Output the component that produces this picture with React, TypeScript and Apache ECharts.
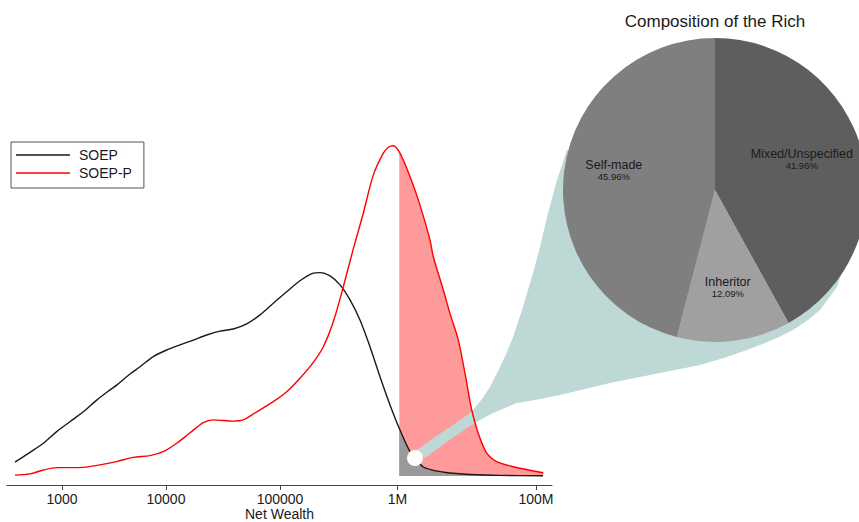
import React, { useEffect, useRef } from "react";
import * as echarts from "echarts";

// x positions are in axis units (0..100) of the chart's wealth axis
const tickPos = [10.09, 29.17, 50.09, 71.65, 97.06];
const tickLabels = ["1000", "10000", "100000", "1M", "100M"];

const soepX = [1.47, 4.22, 6.66, 9.12, 11.56, 14.0, 16.46, 18.9, 20.13, 22.57, 24.4, 26.84, 29.3, 31.74, 34.18, 36.64, 39.08, 41.52, 43.98, 46.42, 48.86, 51.32, 53.76, 56.2, 57.43, 59.27, 61.1, 62.94, 64.77, 66.6, 68.44, 70.28, 72.11, 73.94, 74.86, 76.39, 78.7, 81.28, 84.95, 90.46, 98.35];
const soepY = [0.046, 0.079, 0.109, 0.148, 0.181, 0.214, 0.253, 0.287, 0.303, 0.34, 0.364, 0.398, 0.42, 0.437, 0.453, 0.47, 0.483, 0.49, 0.507, 0.537, 0.576, 0.614, 0.651, 0.676, 0.678, 0.667, 0.637, 0.587, 0.52, 0.431, 0.331, 0.237, 0.153, 0.081, 0.06, 0.03, 0.017, 0.01, 0.005, 0.002, 0.001];

const soepPX = [1.47, 4.22, 6.66, 9.12, 13.39, 17.06, 20.13, 23.17, 26.24, 28.68, 31.14, 33.58, 36.02, 37.85, 41.52, 43.36, 45.82, 48.86, 51.32, 53.76, 56.2, 58.04, 59.87, 61.71, 63.54, 65.38, 67.21, 69.05, 69.96, 70.88, 72.11, 73.94, 75.78, 77.61, 78.22, 80.06, 81.28, 82.81, 84.04, 85.27, 86.48, 88.02, 89.85, 92.9, 98.4];
const soepPY = [0.003, 0.007, 0.02, 0.028, 0.028, 0.037, 0.048, 0.062, 0.068, 0.081, 0.109, 0.144, 0.178, 0.187, 0.183, 0.187, 0.214, 0.248, 0.281, 0.326, 0.379, 0.431, 0.514, 0.631, 0.757, 0.876, 1.003, 1.076, 1.096, 1.101, 1.076, 0.998, 0.903, 0.787, 0.731, 0.62, 0.542, 0.453, 0.342, 0.22, 0.142, 0.076, 0.048, 0.031, 0.011];

const richCut = 71.98;
const soepAtCut = 0.158;
const soepPAtCut = 1.08;
const markerX = 74.86;
const markerY = 0.06;

const pieNames = ["Mixed/Unspecified", "Inheritor", "Self-made"];
const pieValues = [41.96, 12.09, 45.96];
const pieColors = ["#5e5e5e", "#a0a0a0", "#7f7f7f"];

const FONT = "Liberation Sans, Arial, sans-serif";

function pairs(xs: number[], ys: number[]) {
  return xs.map((x, i) => [x, ys[i]]);
}
function tail(xs: number[], ys: number[], cutVal: number) {
  return [[richCut, cutVal], ...pairs(xs, ys).filter((p) => p[0] > richCut)];
}

// decorative connector outline (pixels)
const funnelOutline = [
  [415, 451], [420, 448], [435, 437], [450, 427], [462, 419], [473, 410], [482, 399], [490, 387],
  [500, 367], [507, 352], [513, 337], [518, 322], [523, 307], [528, 290], [533, 273], [540, 247],
  [548, 213], [557, 180], [567, 150], [610, 140], [700, 170], [800, 220], [850, 250], [837, 287],
  [820, 310], [808, 320], [793, 330], [777, 338], [760, 345], [744, 351], [727, 357], [700, 365],
  [680, 369], [660, 373], [635, 378], [610, 383], [585, 389], [560, 395], [550, 397], [535, 400],
  [517, 403], [505, 408], [493, 413], [480, 420], [467, 428], [445, 443], [425, 458],
];

// label nudges inside the pie slices (pixels)
const pieLabelOffsets = [[-12, -5], [0, -4], [0, -7]];

export default function App() {
  const ref = useRef<HTMLDivElement>(null);
  useEffect(() => {
    if (!ref.current) return;
    const chart = echarts.init(ref.current, undefined, { renderer: "svg" });
    chart.setOption({
      animation: false,
      backgroundColor: "#ffffff",
      textStyle: { fontFamily: FONT },
      title: {
        text: "Composition of the Rich",
        left: 710,
        top: 8,
        textAlign: "center",
        textStyle: { fontFamily: FONT, fontSize: 17, fontWeight: "normal", color: "#1a1a1a" },
      },
      legend: {
        data: ["SOEP", "SOEP-P"],
        orient: "vertical",
        left: 11,
        top: 142,
        padding: [6, 12, 8, 5],
        itemGap: 4,
        itemWidth: 54,
        itemHeight: 1.5,
        icon: "rect",
        borderColor: "#555",
        borderWidth: 1,
        textStyle: { fontFamily: FONT, fontSize: 14, color: "#1a1a1a", padding: [0, 0, 0, 4] },
      },
      grid: { left: 7, right: 307, top: 26, bottom: 37, outerBoundsMode: "none", containLabel: false },
      xAxis: {
        type: "value",
        min: 0,
        max: 100,
        name: "Net Wealth",
        nameLocation: "middle",
        nameGap: 22,
        nameMoveOverlap: false,
        nameTextStyle: { fontFamily: FONT, fontSize: 14, color: "#1a1a1a", lineHeight: 14 },
        splitLine: { show: false },
        axisLine: { onZero: false, lineStyle: { color: "#444", width: 1 } },
        axisTick: { show: true, customValues: tickPos, length: 5, lineStyle: { color: "#444" } },
        axisLabel: {
          customValues: tickPos,
          margin: 7,
          fontFamily: FONT,
          fontSize: 14,
          lineHeight: 14,
          color: "#1a1a1a",
          formatter: (v: number) => {
            const i = tickPos.findIndex((t) => Math.abs(t - v) < 1e-6);
            return i >= 0 ? tickLabels[i] : "";
          },
        },
      },
      yAxis: { type: "value", min: -0.03, max: 1.5, show: false, splitLine: { show: false } },
      graphic: [
        {
          type: "polygon",
          z: 2,
          silent: true,
          shape: { points: funnelOutline },
          style: { fill: "#bed9d5" },
        },
      ],
      series: [
        {
          name: "SOEP-P tail",
          type: "line",
          z: 1,
          symbol: "none",
          silent: true,
          data: tail(soepPX, soepPY, soepPAtCut),
          lineStyle: { width: 0, opacity: 0 },
          areaStyle: { color: "#ff9a9a", opacity: 1, origin: 0 },
        },
        {
          name: "SOEP tail",
          type: "line",
          z: 1,
          symbol: "none",
          silent: true,
          data: tail(soepX, soepY, soepAtCut),
          lineStyle: { width: 0, opacity: 0 },
          areaStyle: { color: "#9a9a9a", opacity: 1, origin: 0 },
        },
        {
          name: "SOEP",
          type: "line",
          z: 3,
          symbol: "none",
          smooth: 0.3,
          data: pairs(soepX, soepY),
          color: "#1a1a1a",
          lineStyle: { color: "#1a1a1a", width: 1.4 },
        },
        {
          name: "SOEP-P",
          type: "line",
          z: 3,
          symbol: "none",
          smooth: 0.3,
          data: pairs(soepPX, soepPY),
          color: "#ff0000",
          lineStyle: { color: "#ff0000", width: 1.4 },
        },
        {
          name: "marker",
          type: "scatter",
          z: 6,
          silent: true,
          symbol: "circle",
          symbolSize: 16,
          data: [[markerX, markerY]],
          itemStyle: { color: "#ffffff", opacity: 1 },
        },
        {
          name: "Composition",
          type: "pie",
          z: 4,
          center: [715, 190],
          radius: [0, 152],
          startAngle: 90,
          clockwise: true,
          silent: true,
          avoidLabelOverlap: false,
          label: { show: false },
          labelLine: { show: false },
          data: pieNames.map((n, i) => ({ name: n, value: pieValues[i], itemStyle: { color: pieColors[i] } })),
        },
        {
          name: "Composition labels",
          type: "pie",
          z: 5,
          center: [715, 190],
          radius: [46, 152],
          startAngle: 90,
          clockwise: true,
          silent: true,
          avoidLabelOverlap: false,
          itemStyle: { color: "rgba(0,0,0,0)", borderWidth: 0 },
          labelLine: { show: false },
          label: {
            show: true,
            position: "inside",
            formatter: (p: any) => `{n|${p.name}}\n{v|${Number(p.value).toFixed(2)}%}`,
            rich: {
              n: { fontFamily: FONT, fontSize: 12.5, color: "#1a1a1a", lineHeight: 13 },
              v: { fontFamily: FONT, fontSize: 9.5, color: "#1a1a1a", lineHeight: 11 },
            },
          },
          data: pieNames.map((n, i) => ({
            name: n,
            value: pieValues[i],
            label: { offset: pieLabelOffsets[i] },
          })),
        },
      ],
    });
    return () => chart.dispose();
  }, []);
  return <div ref={ref} style={{ width: 859, height: 522, position: "absolute", left: 0, top: 0 }} />;
}
